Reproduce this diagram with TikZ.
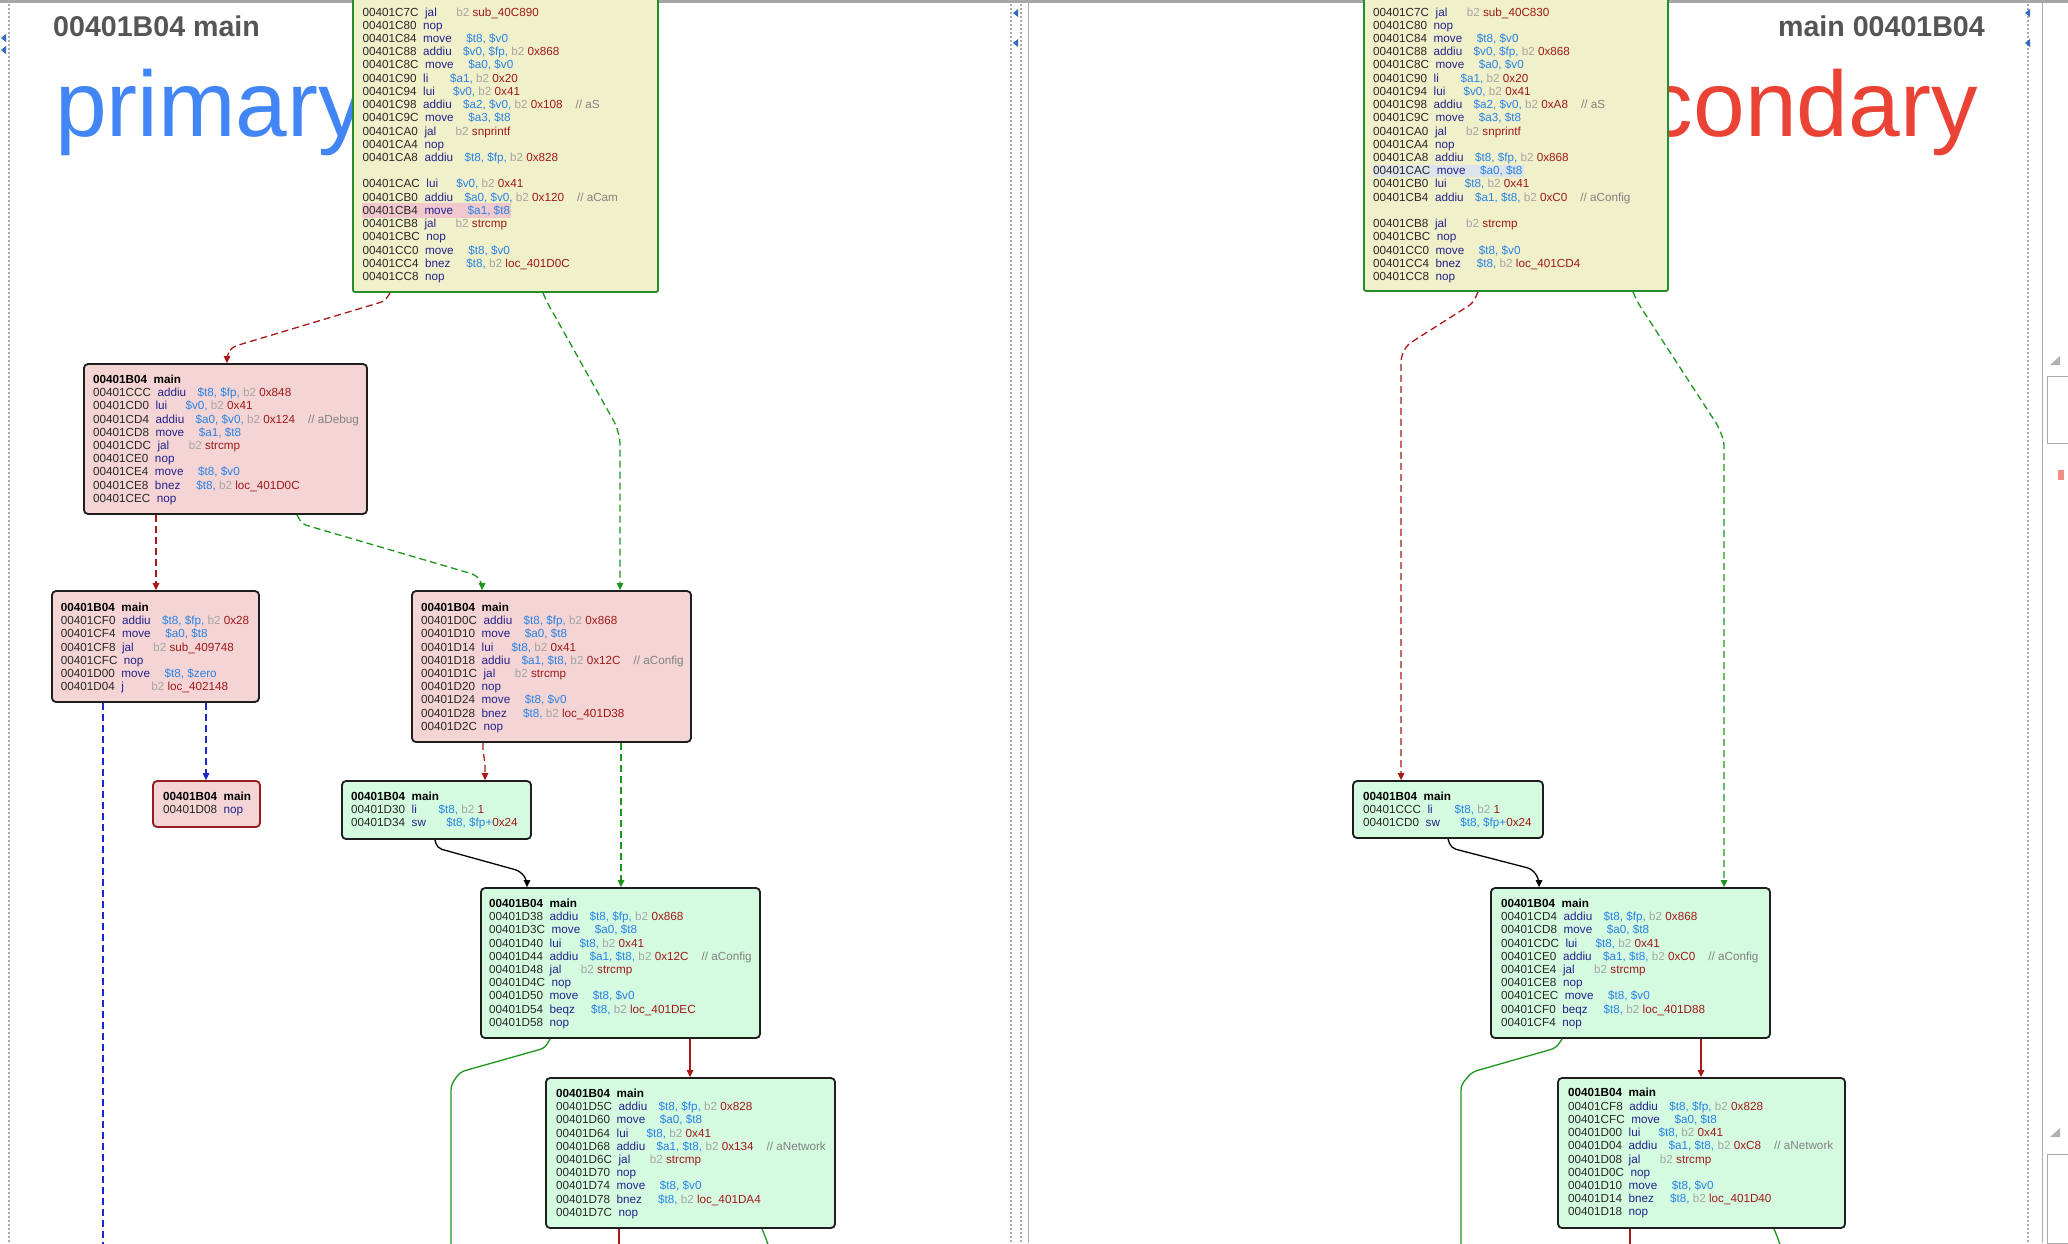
\documentclass[tikz,border=0pt]{standalone}
\usepackage{fontspec}
\setmainfont{Liberation Sans}
\usetikzlibrary{arrows.meta,fit}
\definecolor{cAd}{RGB}{40,40,40}
\definecolor{cMn}{RGB}{35,35,140}
\definecolor{cReg}{RGB}{40,130,230}
\definecolor{cB}{RGB}{165,165,165}
\definecolor{cNum}{RGB}{160,25,25}
\definecolor{cCm}{RGB}{130,130,130}
\definecolor{cYel}{RGB}{240,240,202}
\definecolor{cYelB}{RGB}{40,140,40}
\definecolor{cPink}{RGB}{244,212,212}
\definecolor{cGrn}{RGB}{212,250,224}
\definecolor{cBord}{RGB}{30,30,30}
\definecolor{cEBord}{RGB}{150,30,30}
\definecolor{eRed}{RGB}{170,25,25}
\definecolor{eGrn}{RGB}{30,150,30}
\definecolor{eBlu}{RGB}{30,40,200}
\definecolor{gBlue}{RGB}{66,133,244}
\definecolor{gRed}{RGB}{234,67,53}
\definecolor{cHead}{RGB}{85,85,85}
\definecolor{cHlP}{RGB}{240,200,205}
\definecolor{cHlB}{RGB}{222,228,236}
\definecolor{cChr}{RGB}{170,170,170}
\newcommand\Gp[1]{\hspace*{#1\fontdimen2\font}}
\newcommand\Ins[4]{\textcolor{cAd}{#1}\Gp{2}\textcolor{cMn}{#2}\Gp{#3}#4}
\newcommand\Rg[1]{\textcolor{cReg}{#1}}
\newcommand\Nm[1]{\textcolor{cNum}{#1}}
\newcommand\Bt{\textcolor{cB}{b2}\Gp{1}}
\newcommand\Cm[1]{\Gp{4}\textcolor{cCm}{//\Gp{1}#1}}
\newcommand\Fst{\rule{0pt}{12pt}}
\newcommand\Tl{\textbf{00401B04\Gp{2}main}}
\begin{document}
\begin{tikzpicture}[x=1pt,y=-1pt,
  blkP/.style={draw=cBord, line width=1.8pt, fill=cPink, rounded corners=4pt, inner sep=0pt},
  blkG/.style={draw=cBord, line width=1.8pt, fill=cGrn, rounded corners=4pt, inner sep=0pt},
  blkY/.style={draw=cYelB, line width=1.8pt, fill=cYel, rounded corners=2pt, inner sep=0pt},
  code/.style={anchor=north west, inner sep=0pt, align=left, font=\fontsize{11.7pt}{13.22pt}\selectfont},
  ed/.style={line width=1.3pt, rounded corners=5pt, -{Triangle[length=7pt,width=6.5pt]}},
  edn/.style={line width=1.3pt, rounded corners=5pt},
  dsh/.style={dash pattern=on 7pt off 4pt}]
\useasboundingbox (0,0) rectangle (2068,1243);
\clip (0,0) rectangle (2068,1243);
\fill[white] (0,0) rectangle (2068,1243);

% window chrome
\fill[gray!70] (0,0) rectangle (2068,2.5);
\draw[cChr, line width=1.2pt, dash pattern=on 2pt off 2pt] (9,0) -- (9,1243);
\draw[cChr, line width=1.2pt, dash pattern=on 2pt off 2pt] (1011,0) -- (1011,1243);
\draw[cChr, line width=1.2pt, dash pattern=on 2pt off 2pt] (1021,0) -- (1021,1243);
\draw[cChr, line width=1pt] (1028,0) -- (1028,1243);
\draw[cChr, line width=1.2pt, dash pattern=on 2pt off 2pt] (2028,0) -- (2028,1243);
\draw[cChr, line width=1pt] (2042,0) -- (2042,1243);
\fill[gBlue!80!black] (1,38) -- (6,34) -- (6,42) -- cycle;
\fill[gBlue!80!black] (1,50) -- (6,46) -- (6,54) -- cycle;
\fill[gBlue!80!black] (1013,13) -- (1018,9) -- (1018,17) -- cycle;
\fill[gBlue!80!black] (1013,43) -- (1018,39) -- (1018,47) -- cycle;
\fill[gBlue!80!black] (2025,13) -- (2030,9) -- (2030,17) -- cycle;
\fill[gBlue!80!black] (2025,43) -- (2030,39) -- (2030,47) -- cycle;
\draw[cChr, line width=1pt] (2047,376) rectangle (2068,443);
\fill[gray!60] (2050,365) -- (2060,356) -- (2060,365) -- cycle;
\fill[gRed!60] (2058,470) rectangle (2064,480);
\draw[cChr, line width=1pt] (2047,1154) rectangle (2068,1243);
\fill[gray!60] (2050,1137) -- (2060,1128) -- (2060,1137) -- cycle;

% headers
\node[anchor=base west, inner sep=0pt, text=cHead, font=\fontsize{28.6pt}{30pt}\selectfont\bfseries] (h1) at (53,36.6) {00401B04 main};
\node[anchor=base east, inner sep=0pt, text=cHead, font=\fontsize{28.6pt}{30pt}\selectfont\bfseries] (h2) at (1985,36.6) {main 00401B04};
\begin{scope}
\clip (0,40) rectangle (353,200);
\node[anchor=base west, inner sep=0pt, text=gBlue, font=\fontsize{93pt}{100pt}\selectfont] (prim) at (55,136) {primary};
\end{scope}
\begin{scope}
\clip (1668,40) rectangle (2020,200);
\node[anchor=base east, inner sep=0pt, text=gRed, font=\fontsize{93pt}{100pt}\selectfont] (sec) at (1978,136) {secondary};
\end{scope}

% ---------------- left graph ----------------
\node[blkY, fit={(353,-30) (658,292)}] (A) {};
\fill[cHlP] (362,203) rectangle (511,217.5);
\node[code] (At) at (362.5,3.9) {\Fst
\Ins{00401C7C}{jal}{6}{\Bt\Nm{sub\_40C890}}\\
\Ins{00401C80}{nop}{0}{}\\
\Ins{00401C84}{move}{4.5}{\Rg{\$t8, \$v0}}\\
\Ins{00401C88}{addiu}{3.5}{\Rg{\$v0, \$fp,} \Bt\Nm{0x868}}\\
\Ins{00401C8C}{move}{4.5}{\Rg{\$a0, \$v0}}\\
\Ins{00401C90}{li}{6.7}{\Rg{\$a1,} \Bt\Nm{0x20}}\\
\Ins{00401C94}{lui}{5.6}{\Rg{\$v0,} \Bt\Nm{0x41}}\\
\Ins{00401C98}{addiu}{3.5}{\Rg{\$a2, \$v0,} \Bt\Nm{0x108}\Cm{aS}}\\
\Ins{00401C9C}{move}{4.5}{\Rg{\$a3, \$t8}}\\
\Ins{00401CA0}{jal}{6}{\Bt\Nm{snprintf}}\\
\Ins{00401CA4}{nop}{0}{}\\
\Ins{00401CA8}{addiu}{3.5}{\Rg{\$t8, \$fp,} \Bt\Nm{0x828}}\\[13.22pt]
\Ins{00401CAC}{lui}{5.6}{\Rg{\$v0,} \Bt\Nm{0x41}}\\
\Ins{00401CB0}{addiu}{3.5}{\Rg{\$a0, \$v0,} \Bt\Nm{0x120}\Cm{aCam}}\\
\Ins{00401CB4}{move}{4.5}{\Rg{\$a1, \$t8}}\\
\Ins{00401CB8}{jal}{6}{\Bt\Nm{strcmp}}\\
\Ins{00401CBC}{nop}{0}{}\\
\Ins{00401CC0}{move}{4.5}{\Rg{\$t8, \$v0}}\\
\Ins{00401CC4}{bnez}{4.9}{\Rg{\$t8,} \Bt\Nm{loc\_401D0C}}\\
\Ins{00401CC8}{nop}{0}{}};

\node[blkP, fit={(84,364) (367,514)}] (B) {};
\node[code] (Bt) at (93,371.2) {\Fst\Tl\\
\Ins{00401CCC}{addiu}{3.5}{\Rg{\$t8, \$fp,} \Bt\Nm{0x848}}\\
\Ins{00401CD0}{lui}{5.6}{\Rg{\$v0,} \Bt\Nm{0x41}}\\
\Ins{00401CD4}{addiu}{3.5}{\Rg{\$a0, \$v0,} \Bt\Nm{0x124}\Cm{aDebug}}\\
\Ins{00401CD8}{move}{4.5}{\Rg{\$a1, \$t8}}\\
\Ins{00401CDC}{jal}{6}{\Bt\Nm{strcmp}}\\
\Ins{00401CE0}{nop}{0}{}\\
\Ins{00401CE4}{move}{4.5}{\Rg{\$t8, \$v0}}\\
\Ins{00401CE8}{bnez}{4.9}{\Rg{\$t8,} \Bt\Nm{loc\_401D0C}}\\
\Ins{00401CEC}{nop}{0}{}};

\node[blkP, fit={(52,591) (259,702)}] (C) {};
\node[code] (Ct) at (60.7,599.2) {\Fst\Tl\\
\Ins{00401CF0}{addiu}{3.5}{\Rg{\$t8, \$fp,} \Bt\Nm{0x28}}\\
\Ins{00401CF4}{move}{4.5}{\Rg{\$a0, \$t8}}\\
\Ins{00401CF8}{jal}{6}{\Bt\Nm{sub\_409748}}\\
\Ins{00401CFC}{nop}{0}{}\\
\Ins{00401D00}{move}{4.5}{\Rg{\$t8, \$zero}}\\
\Ins{00401D04}{j}{8.4}{\Bt\Nm{loc\_402148}}};

\node[blkP, fit={(412,591) (691,742)}] (D) {};
\node[code] (Dt) at (421,599.2) {\Fst\Tl\\
\Ins{00401D0C}{addiu}{3.5}{\Rg{\$t8, \$fp,} \Bt\Nm{0x868}}\\
\Ins{00401D10}{move}{4.5}{\Rg{\$a0, \$t8}}\\
\Ins{00401D14}{lui}{5.6}{\Rg{\$t8,} \Bt\Nm{0x41}}\\
\Ins{00401D18}{addiu}{3.5}{\Rg{\$a1, \$t8,} \Bt\Nm{0x12C}\Cm{aConfig}}\\
\Ins{00401D1C}{jal}{6}{\Bt\Nm{strcmp}}\\
\Ins{00401D20}{nop}{0}{}\\
\Ins{00401D24}{move}{4.5}{\Rg{\$t8, \$v0}}\\
\Ins{00401D28}{bnez}{4.9}{\Rg{\$t8,} \Bt\Nm{loc\_401D38}}\\
\Ins{00401D2C}{nop}{0}{}};

\node[blkP, draw=cEBord, fit={(153,781) (260,827)}] (E) {};
\node[code] (Et) at (163,788.2) {\Fst\Tl\\
\Ins{00401D08}{nop}{0}{}};

\node[blkG, fit={(342,781) (531,839)}] (F) {};
\node[code] (Ft) at (351,788.2) {\Fst\Tl\\
\Ins{00401D30}{li}{6.7}{\Rg{\$t8,} \Bt\Nm{1}}\\
\Ins{00401D34}{sw}{6.3}{\Rg{\$t8, \$fp+}\Nm{0x24}}};

\node[blkG, fit={(481,888) (760,1038)}] (G) {};
\node[code] (Gt) at (489,895.2) {\Fst\Tl\\
\Ins{00401D38}{addiu}{3.5}{\Rg{\$t8, \$fp,} \Bt\Nm{0x868}}\\
\Ins{00401D3C}{move}{4.5}{\Rg{\$a0, \$t8}}\\
\Ins{00401D40}{lui}{5.6}{\Rg{\$t8,} \Bt\Nm{0x41}}\\
\Ins{00401D44}{addiu}{3.5}{\Rg{\$a1, \$t8,} \Bt\Nm{0x12C}\Cm{aConfig}}\\
\Ins{00401D48}{jal}{6}{\Bt\Nm{strcmp}}\\
\Ins{00401D4C}{nop}{0}{}\\
\Ins{00401D50}{move}{4.5}{\Rg{\$t8, \$v0}}\\
\Ins{00401D54}{beqz}{4.9}{\Rg{\$t8,} \Bt\Nm{loc\_401DEC}}\\
\Ins{00401D58}{nop}{0}{}};

\node[blkG, fit={(546,1078) (835,1228)}] (H) {};
\node[code] (Ht) at (556,1085.2) {\Fst\Tl\\
\Ins{00401D5C}{addiu}{3.5}{\Rg{\$t8, \$fp,} \Bt\Nm{0x828}}\\
\Ins{00401D60}{move}{4.5}{\Rg{\$a0, \$t8}}\\
\Ins{00401D64}{lui}{5.6}{\Rg{\$t8,} \Bt\Nm{0x41}}\\
\Ins{00401D68}{addiu}{3.5}{\Rg{\$a1, \$t8,} \Bt\Nm{0x134}\Cm{aNetwork}}\\
\Ins{00401D6C}{jal}{6}{\Bt\Nm{strcmp}}\\
\Ins{00401D70}{nop}{0}{}\\
\Ins{00401D74}{move}{4.5}{\Rg{\$t8, \$v0}}\\
\Ins{00401D78}{bnez}{4.9}{\Rg{\$t8,} \Bt\Nm{loc\_401DA4}}\\
\Ins{00401D7C}{nop}{0}{}};

\coordinate (offC) at (103,1250);
\coordinate (offG) at (451,1250);
\coordinate (offHr) at (619,1250);
\coordinate (offHg) at (770,1250);

\draw[ed, eRed, dsh] (390,0 |- A.south) -- (385,301) -- (232,347) -- (227,355) -- (227,0 |- B.north);
\draw[ed, eGrn, dsh] (543,0 |- A.south) -- (547,302) -- (616,425) -- (620,439) -- (620,0 |- D.north);
\draw[ed, eRed, dsh] (156,0 |- B.south) -- (156,0 |- C.north);
\draw[ed, eGrn, dsh] (297,0 |- B.south) -- (302,524) -- (476,575) -- (482,583) -- (482,0 |- D.north);
\draw[ed, eBlu, dsh] (206,0 |- C.south) -- (206,0 |- E.north);
\draw[edn, eBlu, dsh] (103,0 |- C.south) -- (offC);
\draw[ed, eRed, dsh] (483,0 |- D.south) -- (483,752) -- (485,762) -- (485,0 |- F.north);
\draw[ed, eGrn, dsh] (621,0 |- D.south) -- (621,0 |- G.north);
\draw[ed, black] (435,0 |- F.south) -- (437,848) -- (520,871) -- (527,880) -- (527,0 |- G.north);
\draw[ed, eRed] (690,0 |- G.south) -- (690,0 |- H.north);
\draw[edn, eGrn] (550,0 |- G.south) -- (545,1048) -- (460,1072) -- (451,1085) -- (offG);
\draw[edn, eRed] (619,0 |- H.south) -- (offHr);
\draw[edn, eGrn] (762,0 |- H.south) -- (765,1236) -- (offHg);

% ---------------- right graph ----------------
\node[blkY, fit={(1364,-30) (1668,291)}] (A2) {};
\fill[cHlB] (1373,164.5) rectangle (1524,177);
\node[code] (A2t) at (1373,3.9) {\Fst
\Ins{00401C7C}{jal}{6}{\Bt\Nm{sub\_40C830}}\\
\Ins{00401C80}{nop}{0}{}\\
\Ins{00401C84}{move}{4.5}{\Rg{\$t8, \$v0}}\\
\Ins{00401C88}{addiu}{3.5}{\Rg{\$v0, \$fp,} \Bt\Nm{0x868}}\\
\Ins{00401C8C}{move}{4.5}{\Rg{\$a0, \$v0}}\\
\Ins{00401C90}{li}{6.7}{\Rg{\$a1,} \Bt\Nm{0x20}}\\
\Ins{00401C94}{lui}{5.6}{\Rg{\$v0,} \Bt\Nm{0x41}}\\
\Ins{00401C98}{addiu}{3.5}{\Rg{\$a2, \$v0,} \Bt\Nm{0xA8}\Cm{aS}}\\
\Ins{00401C9C}{move}{4.5}{\Rg{\$a3, \$t8}}\\
\Ins{00401CA0}{jal}{6}{\Bt\Nm{snprintf}}\\
\Ins{00401CA4}{nop}{0}{}\\
\Ins{00401CA8}{addiu}{3.5}{\Rg{\$t8, \$fp,} \Bt\Nm{0x868}}\\
\Ins{00401CAC}{move}{4.5}{\Rg{\$a0, \$t8}}\\
\Ins{00401CB0}{lui}{5.6}{\Rg{\$t8,} \Bt\Nm{0x41}}\\
\Ins{00401CB4}{addiu}{3.5}{\Rg{\$a1, \$t8,} \Bt\Nm{0xC0}\Cm{aConfig}}\\[13.22pt]
\Ins{00401CB8}{jal}{6}{\Bt\Nm{strcmp}}\\
\Ins{00401CBC}{nop}{0}{}\\
\Ins{00401CC0}{move}{4.5}{\Rg{\$t8, \$v0}}\\
\Ins{00401CC4}{bnez}{4.9}{\Rg{\$t8,} \Bt\Nm{loc\_401CD4}}\\
\Ins{00401CC8}{nop}{0}{}};

\node[blkG, fit={(1353,781) (1543,838)}] (F2) {};
\node[code] (F2t) at (1363,788.2) {\Fst\Tl\\
\Ins{00401CCC}{li}{6.7}{\Rg{\$t8,} \Bt\Nm{1}}\\
\Ins{00401CD0}{sw}{6.3}{\Rg{\$t8, \$fp+}\Nm{0x24}}};

\node[blkG, fit={(1491,888) (1770,1038)}] (G2) {};
\node[code] (G2t) at (1501,895.2) {\Fst\Tl\\
\Ins{00401CD4}{addiu}{3.5}{\Rg{\$t8, \$fp,} \Bt\Nm{0x868}}\\
\Ins{00401CD8}{move}{4.5}{\Rg{\$a0, \$t8}}\\
\Ins{00401CDC}{lui}{5.6}{\Rg{\$t8,} \Bt\Nm{0x41}}\\
\Ins{00401CE0}{addiu}{3.5}{\Rg{\$a1, \$t8,} \Bt\Nm{0xC0}\Cm{aConfig}}\\
\Ins{00401CE4}{jal}{6}{\Bt\Nm{strcmp}}\\
\Ins{00401CE8}{nop}{0}{}\\
\Ins{00401CEC}{move}{4.5}{\Rg{\$t8, \$v0}}\\
\Ins{00401CF0}{beqz}{4.9}{\Rg{\$t8,} \Bt\Nm{loc\_401D88}}\\
\Ins{00401CF4}{nop}{0}{}};

\node[blkG, fit={(1558,1078) (1845,1228)}] (H2) {};
\node[code] (H2t) at (1568,1084.7) {\Fst\Tl\\
\Ins{00401CF8}{addiu}{3.5}{\Rg{\$t8, \$fp,} \Bt\Nm{0x828}}\\
\Ins{00401CFC}{move}{4.5}{\Rg{\$a0, \$t8}}\\
\Ins{00401D00}{lui}{5.6}{\Rg{\$t8,} \Bt\Nm{0x41}}\\
\Ins{00401D04}{addiu}{3.5}{\Rg{\$a1, \$t8,} \Bt\Nm{0xC8}\Cm{aNetwork}}\\
\Ins{00401D08}{jal}{6}{\Bt\Nm{strcmp}}\\
\Ins{00401D0C}{nop}{0}{}\\
\Ins{00401D10}{move}{4.5}{\Rg{\$t8, \$v0}}\\
\Ins{00401D14}{bnez}{4.9}{\Rg{\$t8,} \Bt\Nm{loc\_401D40}}\\
\Ins{00401D18}{nop}{0}{}};

\coordinate (offG2) at (1461,1250);
\coordinate (offH2r) at (1630,1250);
\coordinate (offH2g) at (1782,1250);

\draw[ed, eRed, dsh] (1478,0 |- A2.south) -- (1473,303) -- (1407,345) -- (1401,357) -- (1401,0 |- F2.north);
\draw[ed, eGrn, dsh] (1633,0 |- A2.south) -- (1638,303) -- (1718,426) -- (1724,441) -- (1724,0 |- G2.north);
\draw[ed, black] (1448,0 |- F2.south) -- (1451,848) -- (1532,869) -- (1539,879) -- (1539,0 |- G2.north);
\draw[ed, eRed] (1701,0 |- G2.south) -- (1701,0 |- H2.north);
\draw[edn, eGrn] (1562,0 |- G2.south) -- (1556,1048) -- (1472,1072) -- (1461,1085) -- (offG2);
\draw[edn, eRed] (1630,0 |- H2.south) -- (offH2r);
\draw[edn, eGrn] (1774,0 |- H2.south) -- (1777,1236) -- (offH2g);
\end{tikzpicture}
\end{document}
